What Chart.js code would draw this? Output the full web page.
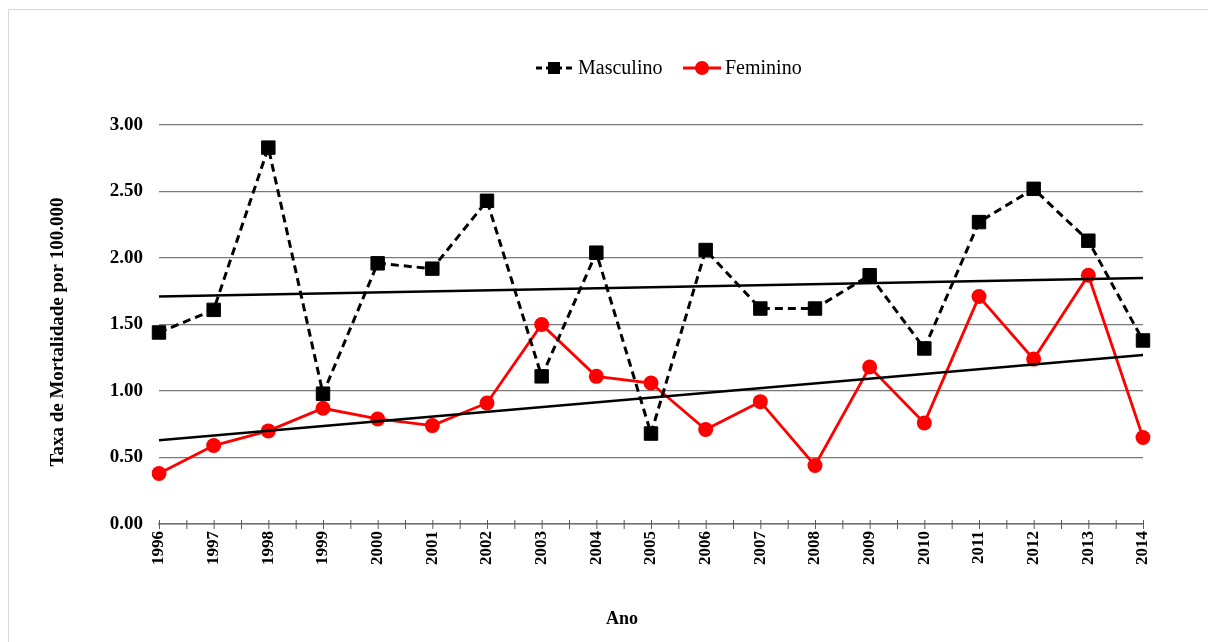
<!DOCTYPE html>
<html>
<head>
<meta charset="utf-8">
<script src="https://cdn.jsdelivr.net/npm/chart.js@4/dist/chart.umd.min.js"></script>
<style>
  html, body { margin: 0; padding: 0; background: #fff; overflow: hidden; }
  #frame { position: absolute; left: 8px; top: 9px; width: 1260px; height: 700px; border: 1px solid #d9d9d9; }
  #wrap { position: absolute; left: 0; top: 0; width: 1208px; height: 642px; }
</style>
</head>
<body>
<div id="frame"></div>
<div id="wrap"><canvas id="chart" width="1208" height="642"></canvas></div>
<script>
// dados
const anos = ["1996","1997","1998","1999","2000","2001","2002","2003","2004","2005",
              "2006","2007","2008","2009","2010","2011","2012","2013","2014"];
const masculino = [1.44, 1.61, 2.83, 0.98, 1.96, 1.92, 2.43, 1.11, 2.04, 0.68,
                   2.06, 1.62, 1.62, 1.87, 1.32, 2.27, 2.52, 2.13, 1.38];
const feminino = [0.38, 0.59, 0.70, 0.87, 0.79, 0.74, 0.91, 1.50, 1.11, 1.06,
                  0.71, 0.92, 0.44, 1.18, 0.76, 1.71, 1.24, 1.87, 0.65];
// linhas de tendência (início e fim)
const tendMasc = [1.71, 1.85];
const tendFem = [0.63, 1.27];
const yTicks = [0, 0.5, 1, 1.5, 2, 2.5, 3];

const serif = "'Liberation Serif', 'Times New Roman', serif";

// legenda, títulos dos eixos e marcas do eixo x
const extras = {
  id: 'extras',
  afterDraw(chart) {
    const ctx = chart.ctx;
    const x = chart.scales.x, a = chart.chartArea;
    ctx.save();
    // marcas do eixo x (em cada ano e no meio)
    ctx.strokeStyle = '#595959';
    ctx.lineWidth = 1;
    for (let i = 0; i < anos.length; i++) {
      const p = x.getPixelForValue(i);
      ctx.beginPath(); ctx.moveTo(p + 0.5, a.bottom - 4); ctx.lineTo(p + 0.5, a.bottom + 5); ctx.stroke();
      if (i < anos.length - 1) {
        const m = (p + x.getPixelForValue(i + 1)) / 2;
        ctx.beginPath(); ctx.moveTo(m + 0.5, a.bottom - 4); ctx.lineTo(m + 0.5, a.bottom + 5); ctx.stroke();
      }
    }
    // títulos
    ctx.fillStyle = '#000';
    ctx.font = "bold 18px " + serif;
    ctx.textAlign = 'center';
    ctx.textBaseline = 'middle';
    ctx.fillText('Ano', 622, 619);
    ctx.font = "bold 19px " + serif;
    ctx.translate(58, 332);
    ctx.rotate(-Math.PI / 2);
    ctx.fillText('Taxa de Mortalidade por 100.000', 0, 0);
    ctx.restore();

    // legenda
    ctx.save();
    const ly = 68;
    ctx.font = "20px " + serif;
    ctx.textBaseline = 'middle';
    ctx.fillStyle = '#000';
    ctx.strokeStyle = '#000';
    ctx.lineWidth = 3;
    ctx.setLineDash([6, 4]);
    ctx.beginPath(); ctx.moveTo(536, ly); ctx.lineTo(574, ly); ctx.stroke();
    ctx.setLineDash([]);
    ctx.fillRect(548, ly - 6, 12, 12);
    ctx.fillText('Masculino', 578, ly + 1);
    ctx.strokeStyle = '#ff0000';
    ctx.fillStyle = '#ff0000';
    ctx.beginPath(); ctx.moveTo(683, ly); ctx.lineTo(721, ly); ctx.stroke();
    ctx.beginPath(); ctx.arc(702, ly, 7, 0, Math.PI * 2); ctx.fill();
    ctx.fillStyle = '#000';
    ctx.fillText('Feminino', 725, ly + 1);
    ctx.restore();
  }
};

new Chart(document.getElementById('chart'), {
  type: 'line',
  data: {
    labels: anos,
    datasets: [
      {
        label: 'Tendência Masculino',
        data: [{ x: anos[0], y: tendMasc[0] }, { x: anos[anos.length - 1], y: tendMasc[1] }],
        borderColor: '#000',
        borderWidth: 2.5,
        pointRadius: 0,
        order: 1
      },
      {
        label: 'Tendência Feminino',
        data: [{ x: anos[0], y: tendFem[0] }, { x: anos[anos.length - 1], y: tendFem[1] }],
        borderColor: '#000',
        borderWidth: 2.5,
        pointRadius: 0,
        order: 1
      },
      {
        label: 'Masculino',
        data: masculino,
        borderColor: '#000',
        backgroundColor: '#000',
        borderWidth: 3,
        borderDash: [8, 5],
        pointStyle: 'rect',
        pointRadius: 9.5,
        pointBorderWidth: 1,
        tension: 0,
        order: 2
      },
      {
        label: 'Feminino',
        data: feminino,
        borderColor: '#ff0000',
        backgroundColor: '#ff0000',
        borderWidth: 2.8,
        pointStyle: 'circle',
        pointRadius: 7.5,
        pointBorderWidth: 0,
        tension: 0,
        order: 3
      }
    ]
  },
  options: {
    responsive: false,
    animation: false,
    devicePixelRatio: 1,
    layout: { padding: { top: 125, right: 65, left: 0, bottom: 0 } },
    plugins: {
      legend: { display: false },
      tooltip: { enabled: false }
    },
    scales: {
      x: {
        type: 'category',
        offset: false,
        afterFit: s => { s.height = 118; },
        grid: { display: false, drawTicks: false },
        border: { display: true, color: '#6f6f6f', width: 1.5 },
        ticks: {
          autoSkip: false,
          minRotation: 90,
          maxRotation: 90,
          padding: 7,
          color: '#000',
          font: { family: serif, size: 17, weight: 'bold' }
        }
      },
      y: {
        min: 0,
        max: 3,
        afterFit: s => { s.width = 159; },
        afterBuildTicks: s => { s.ticks = yTicks.map(v => ({ value: v })); },
        grid: { color: '#7a7a7a', lineWidth: 1.2, drawTicks: false },
        border: { display: false },
        ticks: {
          padding: 16,
          color: '#000',
          font: { family: serif, size: 19, weight: 'bold' },
          callback: v => Number(v).toFixed(2)
        }
      }
    }
  },
  plugins: [extras]
});
</script>
</body>
</html>
